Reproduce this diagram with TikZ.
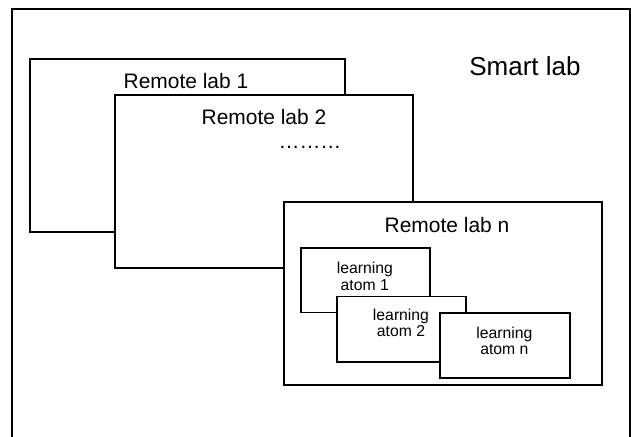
\documentclass[tikz,border=0pt]{standalone}
\usepackage{fontspec}
\setmainfont{Liberation Sans}
\usetikzlibrary{positioning}
\tikzset{labbox/.style={draw, fill=white, line width=1.1pt},
         biglabel/.style={font=\fontsize{18.5}{22}\selectfont, inner sep=0pt, anchor=base},
         lablabel/.style={font=\fontsize{14.9}{18}\selectfont, inner sep=0pt, anchor=base},
         atomlabel/.style={font=\fontsize{11.2}{11.6}\selectfont, inner sep=0pt, align=center}
        }

\begin{document}
\begin{tikzpicture}
\useasboundingbox (0,0) rectangle (15.775,10.925);
%Smart lab frame
\coordinate (framebl) at (0.3,0);
\coordinate (framebr) at (15.75,0);
\draw[line width=1.1pt] (framebl) |- (15.75,10.7) -- (framebr);
\node[biglabel] at (13.125,9.03)(smart){Smart lab};

%Remote labs
\draw[labbox] (0.75,5.125) rectangle (8.625,9.45);
\node[lablabel] at (4.65,8.7)(lab1){Remote lab 1};

\draw[labbox] (2.875,4.225) rectangle (10.325,8.55);
\node[lablabel] at (6.6,7.8)(lab2){Remote lab 2};
\node[lablabel] at (7.75,7.2)(dots){………};

\draw[labbox] (7.1,1.3) rectangle (15.05,5.875);
\node[lablabel] at (11.175,5.1)(labn){Remote lab n};

%Learning atoms
\draw[labbox] (7.52,3.11) rectangle (10.75,4.73);
\node[atomlabel] at (9.12,4.015)(atom1){learning\\atom 1};

\draw[labbox] (8.42,1.875) rectangle (11.65,3.51);
\node[atomlabel] at (10.025,2.845)(atom2){learning\\atom 2};

\draw[labbox] (11.0,1.475) rectangle (14.25,3.1);
\node[atomlabel] at (12.61,2.41)(atomn){learning\\atom n};
\end{tikzpicture}
\end{document}
